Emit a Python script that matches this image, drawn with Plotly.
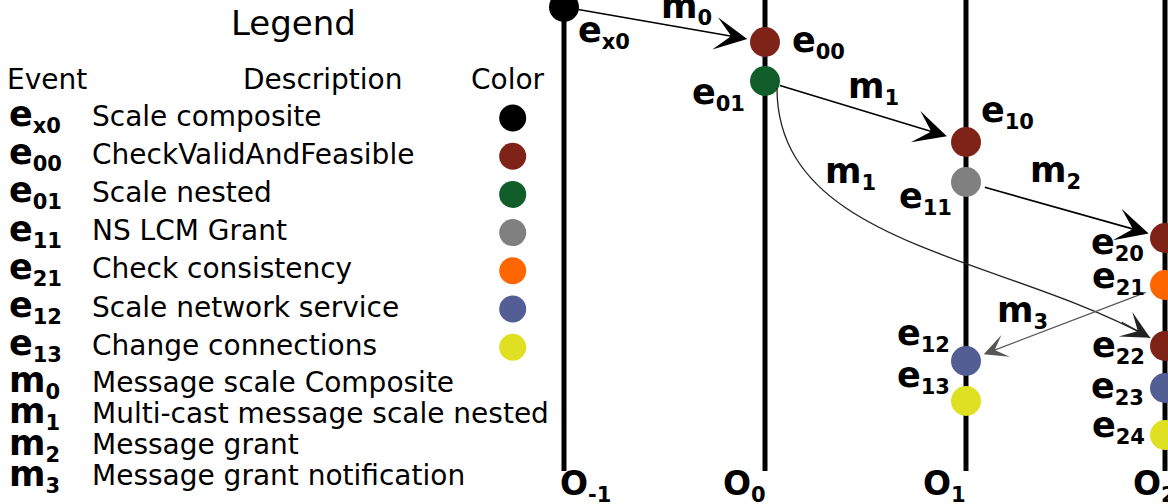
import plotly.graph_objects as go

# ---------------- data ----------------
# lifelines (processes)
process_labels = ["-1", "0", "1", "2"]
process_x = [564, 765, 966, 1165]
process_top = [7, 0, 0, 0]
process_bottom = [471, 471, 471, 471]

# events on the lifelines
event_ids = ["x0", "00", "01", "10", "11", "12", "13", "20", "21", "22", "23", "24"]
event_process = [0, 1, 1, 2, 2, 2, 2, 3, 3, 3, 3, 3]
event_time = [7, 42, 81, 142, 182, 361, 401, 238, 285, 346, 388, 435]
event_color = ["#000000", "#7f2318", "#115e2a", "#7f2318", "#808080", "#525e94",
               "#dfe021", "#7f2318", "#ff6600", "#7f2318", "#525e94", "#dfe021"]

# messages between events
message_labels = ["0", "1", "1", "2", "3"]
message_src = ["x0", "01", "01", "11", "21"]
message_dst = ["00", "10", "22", "20", "12"]
message_curved = [False, False, True, False, False]

# legend table
legend_event_ids = ["x0", "00", "01", "11", "21", "12", "13"]
legend_event_desc = ["Scale composite", "CheckValidAndFeasible", "Scale nested",
                     "NS LCM Grant", "Check consistency", "Scale network service",
                     "Change connections"]
legend_event_colors = ["#000000", "#7f2318", "#115e2a", "#808080", "#ff6600",
                       "#525e94", "#dfe021"]
legend_msg_ids = ["0", "1", "2", "3"]
legend_msg_desc = ["Message scale Composite", "Multi-cast message scale nested",
                   "Message grant", "Message grant notification"]

# ---------------- layout / style ----------------
W, H = 1168, 504
FONT = "DejaVu Sans"
BIG = 35
SUB = 21
TXT = 28

# event label placement: (side, dx, dy) relative to event
event_label_place = {
    "x0": ("l", 12, 25), "00": ("l", 25, 0), "01": ("r", 18, 13),
    "10": ("l", 13, -30), "11": ("r", 12, 16), "12": ("r", 14, -26),
    "13": ("r", 14, -24), "20": ("r", 19, 6), "21": ("r", 18, -7),
    "22": ("r", 18, 1), "23": ("r", 19, 0), "24": ("r", 18, -8),
}
# message label placement (left x, x-height centre y)
message_label_place = [(659, 8), (846, 88), (823, 173), (1028, 172), (995, 312)]
message_style = [  # (width, color, arrowsize, startstandoff, standoff)
    (1.6, "#000000", 3.4, 13, 18),
    (1.6, "#000000", 3.4, 14, 20),
    (1.3, "#222222", 3.6, 0, 17),
    (1.6, "#000000", 3.4, 18, 17),
    (1.3, "#555555", 3.0, 19, 19),
]
curve_ctrl = [(777, 245), (1000, 255)]

# legend geometry
LEG_E_Y0, LEG_E_STEP = 118, 38.2
LEG_M_Y0, LEG_M_STEP = 382, 31.3
LEG_LABEL_X, LEG_DESC_X, LEG_DOT_X = 7, 90, 512.7


def sub_label(base, sub):
    return f"<b>{base}<sub><span style='font-size:{SUB}px'>{sub}</span></sub></b>"


fig = go.Figure()
ann = []

# lifelines
for px, top, bot in zip(process_x, process_top, process_bottom):
    fig.add_trace(go.Scatter(x=[px, px], y=[top, bot], mode="lines",
                             line=dict(color="black", width=5),
                             hoverinfo="skip", showlegend=False))

# process labels
proc_label_anchor = [("left", -6), ("right", 3), ("right", 2), ("left", -34)]
for lab, px, (xa, dx) in zip(process_labels, process_x, proc_label_anchor):
    ann.append(dict(x=px + dx, y=485, text=sub_label("O", lab), xanchor=xa,
                    yanchor="middle", showarrow=False,
                    font=dict(family=FONT, size=33, color="black")))

ev_pos = {}
for eid, pi, t in zip(event_ids, event_process, event_time):
    ev_pos[eid] = (process_x[pi], t)

# messages
for i, (lab, s, d, curved) in enumerate(zip(message_labels, message_src,
                                             message_dst, message_curved)):
    w, col, asz, sst, st = message_style[i]
    sx, sy = ev_pos[s]
    dx_, dy_ = ev_pos[d]
    if not curved:
        ann.append(dict(x=dx_, y=dy_, ax=sx, ay=sy, xref="x", yref="y",
                        axref="x", ayref="y", text="", showarrow=True,
                        arrowhead=3, arrowsize=asz, arrowwidth=w,
                        arrowcolor=col, standoff=st, startstandoff=sst))
    else:
        (c1x, c1y), (c2x, c2y) = curve_ctrl
        p0 = (sx + 12, sy + 7)
        vx, vy = dx_ - c2x, dy_ - c2y
        n = (vx ** 2 + vy ** 2) ** 0.5
        ux, uy = vx / n, vy / n
        p3 = (dx_ - st * ux, dy_ - st * uy)
        fig.add_shape(type="path", xref="x", yref="y",
                      path=f"M {p0[0]},{p0[1]} C {c1x},{c1y} {c2x},{c2y} {p3[0]},{p3[1]}",
                      line=dict(color=col, width=w))
        ann.append(dict(x=dx_, y=dy_, ax=dx_ - (st + 34) * ux,
                        ay=dy_ - (st + 34) * uy, xref="x", yref="y",
                        axref="x", ayref="y", text="", showarrow=True,
                        arrowhead=3, arrowsize=asz, arrowwidth=w,
                        arrowcolor=col, standoff=st))
    lx, ly = message_label_place[i]
    ann.append(dict(x=lx, y=ly, text=sub_label("m", lab), xanchor="left",
                    yanchor="middle", showarrow=False,
                    font=dict(family=FONT, size=BIG, color="black")))

# events
fig.add_trace(go.Scatter(x=[ev_pos[e][0] for e in event_ids],
                         y=[ev_pos[e][1] for e in event_ids], mode="markers",
                         marker=dict(size=30, color=event_color, line=dict(width=0)),
                         hoverinfo="skip", showlegend=False))
for eid in event_ids:
    ex, ey = ev_pos[eid]
    side, ddx, ddy = event_label_place[eid]
    ann.append(dict(x=ex + ddx if side == "l" else ex - ddx, y=ey + ddy,
                    text=sub_label("e", eid),
                    xanchor="left" if side == "l" else "right",
                    yanchor="middle", showarrow=False,
                    font=dict(family=FONT, size=BIG, color="black")))

# legend
ann.append(dict(x=293, y=23, text="Legend", showarrow=False, xanchor="center",
                yanchor="middle", font=dict(family=FONT, size=34, color="black")))
for txt, x, xa in [("Event", 5, "left"), ("Description", 322, "center"),
                   ("Color", 508, "center")]:
    ann.append(dict(x=x, y=79, text=txt, showarrow=False, xanchor=xa,
                    yanchor="middle", font=dict(family=FONT, size=TXT, color="black")))

leg_e_y = [LEG_E_Y0 + LEG_E_STEP * i for i in range(len(legend_event_ids))]
for eid, desc, yy in zip(legend_event_ids, legend_event_desc, leg_e_y):
    ann.append(dict(x=LEG_LABEL_X, y=yy - 2, text=sub_label("e", eid), xanchor="left",
                    yanchor="middle", showarrow=False,
                    font=dict(family=FONT, size=BIG, color="black")))
    ann.append(dict(x=LEG_DESC_X, y=yy - 2, text=desc, xanchor="left",
                    yanchor="middle", showarrow=False,
                    font=dict(family=FONT, size=TXT, color="black")))
fig.add_trace(go.Scatter(x=[LEG_DOT_X] * len(leg_e_y), y=leg_e_y, mode="markers",
                         marker=dict(size=27, color=legend_event_colors, line=dict(width=0)),
                         hoverinfo="skip", showlegend=False))

leg_m_y = [LEG_M_Y0 + LEG_M_STEP * i for i in range(len(legend_msg_ids))]
for mid, desc, yy in zip(legend_msg_ids, legend_msg_desc, leg_m_y):
    ann.append(dict(x=LEG_LABEL_X, y=yy, text=sub_label("m", mid), xanchor="left",
                    yanchor="middle", showarrow=False,
                    font=dict(family=FONT, size=BIG, color="black")))
    ann.append(dict(x=LEG_DESC_X, y=yy, text=desc, xanchor="left",
                    yanchor="middle", showarrow=False,
                    font=dict(family=FONT, size=TXT, color="black")))

fig.update_layout(
    width=W, height=H, margin=dict(l=0, r=0, t=0, b=0),
    paper_bgcolor="white", plot_bgcolor="white",
    xaxis=dict(range=[0, W], visible=False, fixedrange=True),
    yaxis=dict(range=[H, 0], visible=False, fixedrange=True),
    annotations=ann, showlegend=False,
)
fig.write_html("out.html", config={"displayModeBar": False},
               post_script="document.body.style.margin='0';document.body.style.overflow='hidden';")
